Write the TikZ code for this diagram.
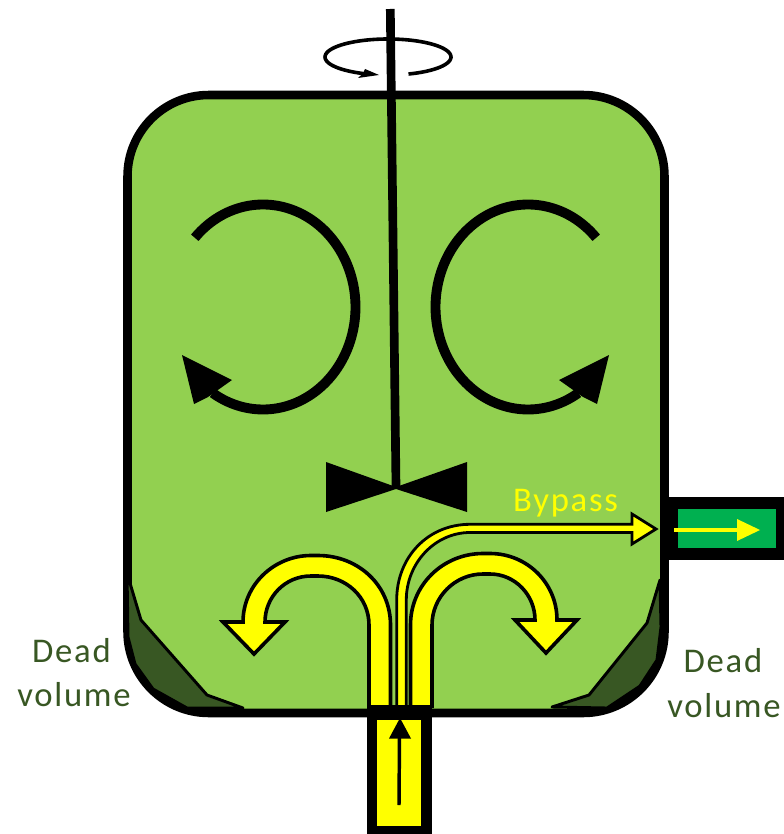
\documentclass[tikz,border=0pt]{standalone}
\usepackage{fontspec}
\setmainfont{Carlito}
\definecolor{tankgreen}{HTML}{92D050}
\definecolor{deadgreen}{HTML}{385723}
\definecolor{outgreen}{HTML}{00B050}
\definecolor{flowyellow}{HTML}{FFFF00}
\tikzset{
  tank/.style={draw=black,fill=tankgreen,line width=6.4pt,rounded corners=61pt},
  deadzone/.style={draw=black,fill=deadgreen,line width=2.2pt,line join=round},
  flowarrow/.style={draw=black,fill=flowyellow,line width=2.7pt,line join=miter},
  swirl/.style={draw=black,line width=7.4pt},
  swirlhead/.style={fill=black,draw=none},
  label/.style={text=deadgreen,font=\fontsize{26}{26}\selectfont\addfontfeature{LetterSpace=5},inner sep=0pt,anchor=center}
}
\begin{document}
\begin{tikzpicture}[x=0.75pt,y=-0.75pt]
\useasboundingbox (0,0) rectangle (784,834);
% tank
\draw[tank] (127.5,95) rectangle (664.5,713);
% dead volumes
\draw[deadzone] (127,573) -- (141,620) -- (207,695) -- (243,708) -- (187,708) -- (153,689) -- (135,664) -- (128,637) -- cycle;
\draw[deadzone] (660,580) -- (647,623) -- (589,695) -- (552,707) -- (607,708) -- (640,686) -- (657,660) -- (661,627) -- cycle;
% outlet
\fill[black] (664,497) rectangle (784,560);
\fill[outgreen] (678,509) rectangle (776,548);
\draw[flowyellow,line width=2.6pt] (674,530) -- (740,530);
\fill[flowyellow] (737,519) -- (760,530) -- (737,541) -- cycle;
% yellow flow arrows
\draw[flowarrow] (410.5,708) -- (410.5,625) .. controls (410.5,585) and (443,553.5) .. (483,553.5) -- (490,553.5)
  .. controls (527,553.5) and (557,583) .. (557,620) -- (577,620) -- (546,653) -- (515,620) -- (535,620)
  .. controls (535,595) and (515,574) .. (490,574) -- (483,574)
  .. controls (455,574) and (432,597) .. (432,625) -- (432,708);
\draw[flowarrow] (390.5,708) -- (390.5,625) .. controls (390.5,585) and (358,555.5) .. (318,555.5) -- (311,555.5)
  .. controls (274,555.5) and (243,585) .. (243,622) -- (223,622) -- (254,654) -- (285,622) -- (265,622)
  .. controls (265,597) and (285,576) .. (311,576) -- (318,576)
  .. controls (346,576) and (369,597) .. (369,625) -- (369,708);
\draw[flowarrow,line width=2.1pt] (396.7,708) -- (396.7,600) .. controls (396.7,557) and (428,524.3) .. (470,524.3)
  -- (632,524.3) -- (632,514) -- (656,529) -- (632,544) -- (632,532.5)
  -- (470,532.5) .. controls (435,532.5) and (406.3,563) .. (406.3,600) -- (406.3,708);
% inlet
\fill[black] (367,705) rectangle (432,834);
\fill[flowyellow] (377,720) rectangle (421,826);
\draw[black,line width=2.6pt] (399,805) -- (399.5,735);
\fill[black] (389,738.5) -- (400,718) -- (411,738.5) -- cycle;
% tank bottom line over the flows
\fill[black] (243,709) rectangle (560,717);
% swirls
\draw[swirl] plot[domain=-137.5:123,samples=70,smooth] ({263+92.5*cos(\x)},{307+102.5*sin(\x)});
\fill[swirlhead] (182,355) -- (232,380) -- (208,397) -- (194,404) -- cycle;
\draw[swirl] plot[domain=-137.5:123,samples=70,smooth] ({528-92.5*cos(\x)},{307+102.5*sin(\x)});
\fill[swirlhead] (609,355) -- (559,380) -- (583,397) -- (597,404) -- cycle;
% shaft and impeller
\draw[black,line width=6.5pt] (390.3,9) -- (396,487);
\fill[black] (326,462) -- (396,487) -- (467,462) -- (467,512) -- (396,489) -- (326,512) -- cycle;
% rotation mark
\draw[black,line width=2.7pt] plot[domain=71:-250,samples=70,smooth] ({388+63*cos(\x)},{57+18*sin(\x)});
\fill[black] (365,69) -- (379,75) -- (358,78) -- (363,73.5) -- cycle;
% labels
\node[label,text=flowyellow] (bypass) at (565.5,503) {Bypass};
\node[label] (deadL) at (71.5,651) {Dead};
\node[label] (volL) at (74,695) {volume};
\node[label] (deadR) at (723,661) {Dead};
\node[label] (volR) at (724,706) {volume};
\end{tikzpicture}
\end{document}
